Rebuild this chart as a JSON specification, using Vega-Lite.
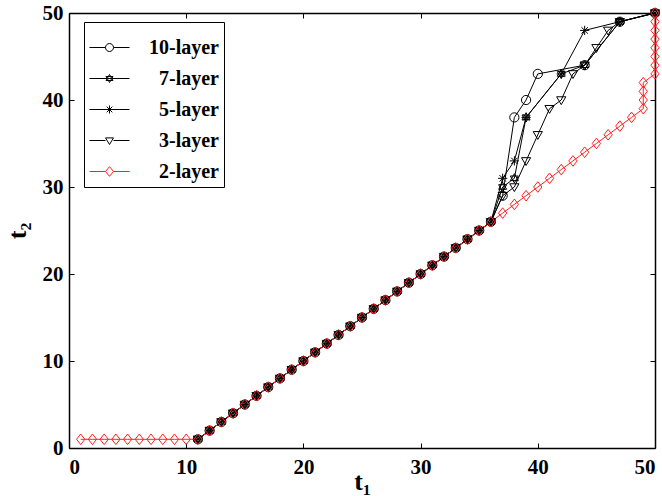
{
  "$schema": "https://vega.github.io/schema/vega-lite/v6.json",
  "width": 586,
  "height": 435,
  "autosize": {"type": "none"},
  "padding": {"left": 69, "top": 13, "right": 7, "bottom": 48},
  "background": "white",
  "config": {"view": {"stroke": null}},
  "data": {"values": [
    {"layer":"10-layer","t1":11,"t2":1},{"layer":"10-layer","t1":12,"t2":2},{"layer":"10-layer","t1":13,"t2":3},{"layer":"10-layer","t1":14,"t2":4},{"layer":"10-layer","t1":15,"t2":5},{"layer":"10-layer","t1":16,"t2":6},{"layer":"10-layer","t1":17,"t2":7},{"layer":"10-layer","t1":18,"t2":8},{"layer":"10-layer","t1":19,"t2":9},{"layer":"10-layer","t1":20,"t2":10},{"layer":"10-layer","t1":21,"t2":11},{"layer":"10-layer","t1":22,"t2":12},{"layer":"10-layer","t1":23,"t2":13},{"layer":"10-layer","t1":24,"t2":14},{"layer":"10-layer","t1":25,"t2":15},{"layer":"10-layer","t1":26,"t2":16},{"layer":"10-layer","t1":27,"t2":17},{"layer":"10-layer","t1":28,"t2":18},{"layer":"10-layer","t1":29,"t2":19},{"layer":"10-layer","t1":30,"t2":20},{"layer":"10-layer","t1":31,"t2":21},{"layer":"10-layer","t1":32,"t2":22},{"layer":"10-layer","t1":33,"t2":23},{"layer":"10-layer","t1":34,"t2":24},{"layer":"10-layer","t1":35,"t2":25},{"layer":"10-layer","t1":36,"t2":26},{"layer":"10-layer","t1":37,"t2":29},{"layer":"10-layer","t1":38,"t2":38},{"layer":"10-layer","t1":39,"t2":40},{"layer":"10-layer","t1":40,"t2":43},{"layer":"10-layer","t1":44,"t2":44},{"layer":"10-layer","t1":47,"t2":49},{"layer":"10-layer","t1":50,"t2":50},
    {"layer":"7-layer","t1":11,"t2":1},{"layer":"7-layer","t1":12,"t2":2},{"layer":"7-layer","t1":13,"t2":3},{"layer":"7-layer","t1":14,"t2":4},{"layer":"7-layer","t1":15,"t2":5},{"layer":"7-layer","t1":16,"t2":6},{"layer":"7-layer","t1":17,"t2":7},{"layer":"7-layer","t1":18,"t2":8},{"layer":"7-layer","t1":19,"t2":9},{"layer":"7-layer","t1":20,"t2":10},{"layer":"7-layer","t1":21,"t2":11},{"layer":"7-layer","t1":22,"t2":12},{"layer":"7-layer","t1":23,"t2":13},{"layer":"7-layer","t1":24,"t2":14},{"layer":"7-layer","t1":25,"t2":15},{"layer":"7-layer","t1":26,"t2":16},{"layer":"7-layer","t1":27,"t2":17},{"layer":"7-layer","t1":28,"t2":18},{"layer":"7-layer","t1":29,"t2":19},{"layer":"7-layer","t1":30,"t2":20},{"layer":"7-layer","t1":31,"t2":21},{"layer":"7-layer","t1":32,"t2":22},{"layer":"7-layer","t1":33,"t2":23},{"layer":"7-layer","t1":34,"t2":24},{"layer":"7-layer","t1":35,"t2":25},{"layer":"7-layer","t1":36,"t2":26},{"layer":"7-layer","t1":37,"t2":30},{"layer":"7-layer","t1":38,"t2":31},{"layer":"7-layer","t1":39,"t2":38},{"layer":"7-layer","t1":42,"t2":43},{"layer":"7-layer","t1":44,"t2":44},{"layer":"7-layer","t1":47,"t2":49},{"layer":"7-layer","t1":50,"t2":50},
    {"layer":"5-layer","t1":11,"t2":1},{"layer":"5-layer","t1":12,"t2":2},{"layer":"5-layer","t1":13,"t2":3},{"layer":"5-layer","t1":14,"t2":4},{"layer":"5-layer","t1":15,"t2":5},{"layer":"5-layer","t1":16,"t2":6},{"layer":"5-layer","t1":17,"t2":7},{"layer":"5-layer","t1":18,"t2":8},{"layer":"5-layer","t1":19,"t2":9},{"layer":"5-layer","t1":20,"t2":10},{"layer":"5-layer","t1":21,"t2":11},{"layer":"5-layer","t1":22,"t2":12},{"layer":"5-layer","t1":23,"t2":13},{"layer":"5-layer","t1":24,"t2":14},{"layer":"5-layer","t1":25,"t2":15},{"layer":"5-layer","t1":26,"t2":16},{"layer":"5-layer","t1":27,"t2":17},{"layer":"5-layer","t1":28,"t2":18},{"layer":"5-layer","t1":29,"t2":19},{"layer":"5-layer","t1":30,"t2":20},{"layer":"5-layer","t1":31,"t2":21},{"layer":"5-layer","t1":32,"t2":22},{"layer":"5-layer","t1":33,"t2":23},{"layer":"5-layer","t1":34,"t2":24},{"layer":"5-layer","t1":35,"t2":25},{"layer":"5-layer","t1":36,"t2":26},{"layer":"5-layer","t1":37,"t2":31},{"layer":"5-layer","t1":38,"t2":33},{"layer":"5-layer","t1":39,"t2":38},{"layer":"5-layer","t1":42,"t2":43},{"layer":"5-layer","t1":44,"t2":48},{"layer":"5-layer","t1":47,"t2":49},{"layer":"5-layer","t1":50,"t2":50},
    {"layer":"3-layer","t1":11,"t2":1},{"layer":"3-layer","t1":12,"t2":2},{"layer":"3-layer","t1":13,"t2":3},{"layer":"3-layer","t1":14,"t2":4},{"layer":"3-layer","t1":15,"t2":5},{"layer":"3-layer","t1":16,"t2":6},{"layer":"3-layer","t1":17,"t2":7},{"layer":"3-layer","t1":18,"t2":8},{"layer":"3-layer","t1":19,"t2":9},{"layer":"3-layer","t1":20,"t2":10},{"layer":"3-layer","t1":21,"t2":11},{"layer":"3-layer","t1":22,"t2":12},{"layer":"3-layer","t1":23,"t2":13},{"layer":"3-layer","t1":24,"t2":14},{"layer":"3-layer","t1":25,"t2":15},{"layer":"3-layer","t1":26,"t2":16},{"layer":"3-layer","t1":27,"t2":17},{"layer":"3-layer","t1":28,"t2":18},{"layer":"3-layer","t1":29,"t2":19},{"layer":"3-layer","t1":30,"t2":20},{"layer":"3-layer","t1":31,"t2":21},{"layer":"3-layer","t1":32,"t2":22},{"layer":"3-layer","t1":33,"t2":23},{"layer":"3-layer","t1":34,"t2":24},{"layer":"3-layer","t1":35,"t2":25},{"layer":"3-layer","t1":36,"t2":26},{"layer":"3-layer","t1":37,"t2":29},{"layer":"3-layer","t1":38,"t2":30},{"layer":"3-layer","t1":39,"t2":33},{"layer":"3-layer","t1":40,"t2":36},{"layer":"3-layer","t1":41,"t2":39},{"layer":"3-layer","t1":42,"t2":40},{"layer":"3-layer","t1":43,"t2":43},{"layer":"3-layer","t1":44,"t2":44},{"layer":"3-layer","t1":45,"t2":46},{"layer":"3-layer","t1":46,"t2":48},{"layer":"3-layer","t1":47,"t2":49},{"layer":"3-layer","t1":50,"t2":50},
    {"layer":"2-layer","t1":1,"t2":1},{"layer":"2-layer","t1":2,"t2":1},{"layer":"2-layer","t1":3,"t2":1},{"layer":"2-layer","t1":4,"t2":1},{"layer":"2-layer","t1":5,"t2":1},{"layer":"2-layer","t1":6,"t2":1},{"layer":"2-layer","t1":7,"t2":1},{"layer":"2-layer","t1":8,"t2":1},{"layer":"2-layer","t1":9,"t2":1},{"layer":"2-layer","t1":10,"t2":1},
    {"layer":"2-layer","t1":11,"t2":1},{"layer":"2-layer","t1":12,"t2":2},{"layer":"2-layer","t1":13,"t2":3},{"layer":"2-layer","t1":14,"t2":4},{"layer":"2-layer","t1":15,"t2":5},{"layer":"2-layer","t1":16,"t2":6},{"layer":"2-layer","t1":17,"t2":7},{"layer":"2-layer","t1":18,"t2":8},{"layer":"2-layer","t1":19,"t2":9},{"layer":"2-layer","t1":20,"t2":10},{"layer":"2-layer","t1":21,"t2":11},{"layer":"2-layer","t1":22,"t2":12},{"layer":"2-layer","t1":23,"t2":13},{"layer":"2-layer","t1":24,"t2":14},{"layer":"2-layer","t1":25,"t2":15},{"layer":"2-layer","t1":26,"t2":16},{"layer":"2-layer","t1":27,"t2":17},{"layer":"2-layer","t1":28,"t2":18},{"layer":"2-layer","t1":29,"t2":19},{"layer":"2-layer","t1":30,"t2":20},{"layer":"2-layer","t1":31,"t2":21},{"layer":"2-layer","t1":32,"t2":22},{"layer":"2-layer","t1":33,"t2":23},{"layer":"2-layer","t1":34,"t2":24},{"layer":"2-layer","t1":35,"t2":25},{"layer":"2-layer","t1":36,"t2":26},
    {"layer":"2-layer","t1":37,"t2":27},{"layer":"2-layer","t1":38,"t2":28},{"layer":"2-layer","t1":39,"t2":29},{"layer":"2-layer","t1":40,"t2":30},{"layer":"2-layer","t1":41,"t2":31},{"layer":"2-layer","t1":42,"t2":32},{"layer":"2-layer","t1":43,"t2":33},{"layer":"2-layer","t1":44,"t2":34},{"layer":"2-layer","t1":45,"t2":35},{"layer":"2-layer","t1":46,"t2":36},{"layer":"2-layer","t1":47,"t2":37},{"layer":"2-layer","t1":48,"t2":38},{"layer":"2-layer","t1":49,"t2":39},{"layer":"2-layer","t1":49,"t2":40},{"layer":"2-layer","t1":49,"t2":41},{"layer":"2-layer","t1":49,"t2":42},
    {"layer":"2-layer","t1":50,"t2":43},{"layer":"2-layer","t1":50,"t2":44},{"layer":"2-layer","t1":50,"t2":45},{"layer":"2-layer","t1":50,"t2":46},{"layer":"2-layer","t1":50,"t2":47},{"layer":"2-layer","t1":50,"t2":48},{"layer":"2-layer","t1":50,"t2":49},{"layer":"2-layer","t1":50,"t2":50}
  ]},
  "resolve": {"scale": {"color": "independent", "shape": "independent"}, "axis": {"x": "independent", "y": "independent"}},
  "layer": [
    {
      "mark": {"type": "line", "strokeWidth": 1, "clip": false},
      "encoding": {
        "x": {"field": "t1", "type": "quantitative", "scale": {"domain": [0, 50], "nice": false, "zero": false},
          "axis": {"orient": "bottom", "values": [0, 10, 20, 30, 40, 50], "title": "t₁", "grid": false,
            "tickSize": -5, "tickColor": "black", "tickWidth": 1, "labelPadding": 13,
            "domainColor": "black", "domainWidth": 1.5,
            "labelFont": "Liberation Serif", "labelFontWeight": "bold", "labelFontSize": 21, "labelColor": "black",
            "titleFont": "Liberation Serif", "titleFontWeight": "bold", "titleFontSize": 26, "titleColor": "black", "titlePadding": -9}},
        "y": {"field": "t2", "type": "quantitative", "scale": {"domain": [0, 50], "nice": false, "zero": false},
          "axis": {"orient": "left", "values": [0, 10, 20, 30, 40, 50], "title": "t₂", "grid": false,
            "tickSize": -5, "tickColor": "black", "tickWidth": 1, "labelPadding": 11,
            "domainColor": "black", "domainWidth": 1.5,
            "labelFont": "Liberation Serif", "labelFontWeight": "bold", "labelFontSize": 21, "labelColor": "black",
            "titleFont": "Liberation Serif", "titleFontWeight": "bold", "titleFontSize": 26, "titleColor": "black", "titlePadding": 12}},
        "color": {"field": "layer", "type": "nominal", "legend": null,
          "scale": {"domain": ["10-layer", "7-layer", "5-layer", "3-layer", "2-layer"], "range": ["black", "black", "black", "black", "#ff2020"]}},
        "detail": {"field": "layer"},
        "order": {"value": null}
      }
    },
    {
      "mark": {"type": "point", "filled": false, "strokeWidth": 1, "size": 85, "opacity": 1, "clip": false},
      "encoding": {
        "x": {"field": "t1", "type": "quantitative",
          "axis": {"orient": "top", "values": [0, 10, 20, 30, 40, 50], "labels": false, "title": null, "grid": false,
            "tickSize": -5, "tickColor": "black", "domainColor": "black", "domainWidth": 1.5}},
        "y": {"field": "t2", "type": "quantitative",
          "axis": {"orient": "right", "values": [0, 10, 20, 30, 40, 50], "labels": false, "title": null, "grid": false,
            "tickSize": -5, "tickColor": "black", "domainColor": "black", "domainWidth": 1.5}},
        "color": {"field": "layer", "type": "nominal", "legend": null,
          "scale": {"domain": ["10-layer", "7-layer", "5-layer", "3-layer", "2-layer"], "range": ["black", "black", "black", "black", "#ff2020"]}},
        "shape": {"field": "layer", "type": "nominal", "legend": null,
          "scale": {"domain": ["10-layer", "7-layer", "5-layer", "3-layer", "2-layer"],
            "range": ["circle", "M0,-1L0.866,0.5L-0.866,0.5ZM0,1L0.866,-0.5L-0.866,-0.5Z", "M-1,0L1,0M0,-1L0,1M-0.7,-0.7L0.7,0.7M-0.7,0.7L0.7,-0.7", "M-1,-0.7L1,-0.7L0,1Z", "M0,-1.15L0.9,0L0,1.15L-0.9,0Z"]}},
        "order": {"value": null}
      }
    },
    {
      "transform": [{"filter": "false"}],
      "mark": {"type": "point", "filled": false, "strokeWidth": 1, "opacity": 1},
      "encoding": {
        "color": {"field": "layer", "type": "nominal",
          "scale": {"domain": ["10-layer", "7-layer", "5-layer", "3-layer", "2-layer"], "range": ["black", "black", "black", "black", "#ff2020"]},
          "legend": {"orient": "none", "legendX": 15, "legendY": 9, "title": null,
            "strokeColor": "black", "fillColor": "white", "padding": 5, "rowPadding": -6,
            "symbolSize": 1600, "symbolStrokeWidth": 1, "symbolOpacity": 1,
            "labelFont": "Liberation Serif", "labelFontWeight": "bold", "labelFontSize": 20, "labelColor": "black",
            "labelAlign": "right", "labelOffset": 89, "labelLimit": 300,
            "labelExpr": "datum.label + '\u00a0\u00a0'"}},
        "shape": {"field": "layer", "type": "nominal",
          "scale": {"domain": ["10-layer", "7-layer", "5-layer", "3-layer", "2-layer"],
            "range": ["M-1,0L-0.2,0M0.2,0L1,0M-0.2,0A0.2,0.2 0 1 0 0.2,0A0.2,0.2 0 1 0 -0.2,0", "M-1,0L1,0M0,-0.2L0.173,0.1L-0.173,0.1ZM0,0.2L0.173,-0.1L-0.173,-0.1Z", "M-1,0L1,0M0,-0.2L0,0.2M-0.14,-0.14L0.14,0.14M-0.14,0.14L0.14,-0.14", "M-1,0L-0.2,0M0.2,0L1,0M-0.2,-0.13L0.2,-0.13L0,0.2Z", "M-1,0L-0.2,0M0.2,0L1,0M0,-0.24L0.2,0L0,0.24L-0.2,0Z"]},
          "legend": {"orient": "none", "legendX": 15, "legendY": 9, "title": null,
            "strokeColor": "black", "fillColor": "white", "padding": 5, "rowPadding": -6,
            "symbolSize": 1600, "symbolStrokeWidth": 1, "symbolOpacity": 1,
            "labelFont": "Liberation Serif", "labelFontWeight": "bold", "labelFontSize": 20, "labelColor": "black",
            "labelAlign": "right", "labelOffset": 89, "labelLimit": 300,
            "labelExpr": "datum.label + '\u00a0\u00a0'"}}
      }
    }
  ]
}
